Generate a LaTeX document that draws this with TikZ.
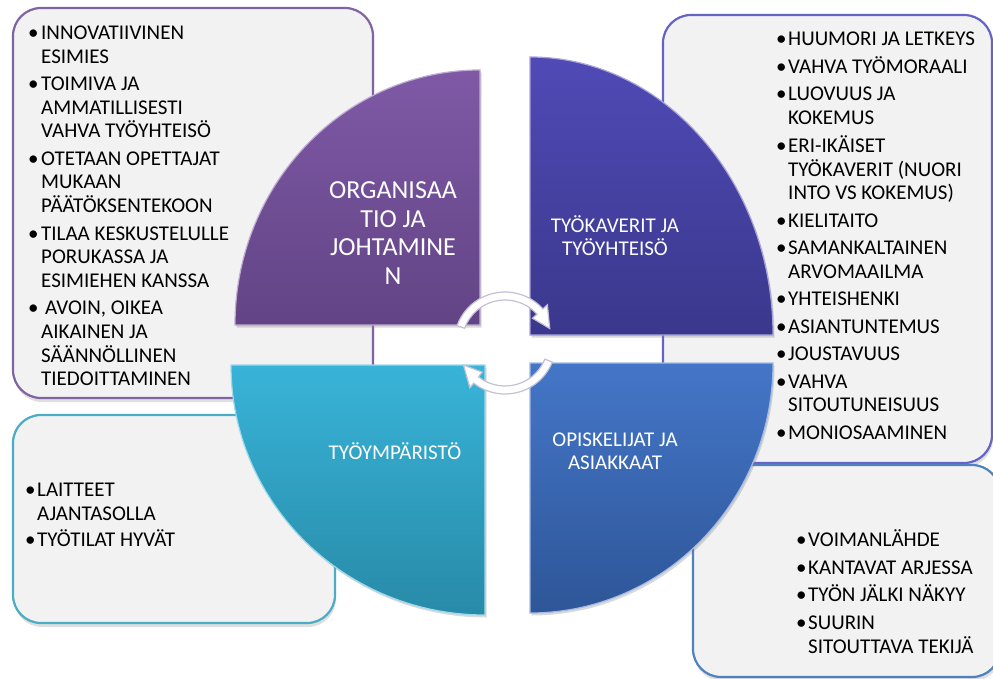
\documentclass[tikz,border=0pt]{standalone}
\usepackage{fontspec}
\setmainfont{Carlito}
\usetikzlibrary{shadows}
\definecolor{orgtop}{RGB}{127,89,166}
\definecolor{orgbot}{RGB}{98,68,133}
\definecolor{mattop}{RGB}{80,74,182}
\definecolor{matbot}{RGB}{58,56,140}
\definecolor{envtop}{RGB}{56,180,216}
\definecolor{envbot}{RGB}{40,138,168}
\definecolor{stutop}{RGB}{68,118,200}
\definecolor{stubot}{RGB}{46,86,152}
\definecolor{orgline}{RGB}{128,100,162}
\definecolor{matline}{RGB}{100,100,196}
\definecolor{envline}{RGB}{75,172,198}
\definecolor{stuline}{RGB}{79,129,189}
\definecolor{arrowline}{RGB}{196,192,214}
\definecolor{boxfill}{RGB}{242,242,242}
\begin{document}
\begin{tikzpicture}[x=1pt, y=-1pt,
	listbox/.style={fill=boxfill, draw=#1, line width=2.2pt, rounded corners=28pt,
		drop shadow={opacity=0.25, shadow xshift=1pt, shadow yshift=-4pt}},
	quarter/.style 2 args={top color=#1, bottom color=#2, draw=#1!50!white, line width=1.2pt,
		drop shadow={opacity=0.3, shadow xshift=1.5pt, shadow yshift=-2.5pt}},
	listtext/.style={anchor=base west, inner sep=0pt, font=\fontsize{21}{23.5}\selectfont},
	qlabel/.style={text=white, align=center, inner sep=0pt, font=\fontsize{21}{23}\selectfont},
	cyclearrow/.style={fill=white, draw=arrowline, line width=1.2pt}]
\useasboundingbox (0,0) rectangle (993,679);
\draw[listbox=orgline] (13,8) rectangle (373,398);
\draw[listbox=matline] (663,15) rectangle (992,463);
\draw[listbox=envline] (13,415) rectangle (335,623);
\draw[listbox=stuline] (693,465) rectangle (1000,677);
\path[quarter={orgtop}{orgbot}] (480,325) -- ++(-245,0) arc[start angle=180, end angle=270, x radius=245, y radius=255] -- cycle;
\path[quarter={mattop}{matbot}] (530,335) -- ++(0,-278) arc[start angle=270, end angle=360, x radius=243, y radius=278] -- cycle;
\path[quarter={stutop}{stubot}] (530,363) -- ++(243,0) arc[start angle=0, end angle=90, x radius=243, y radius=250] -- cycle;
\path[quarter={envtop}{envbot}] (485,365) -- ++(0,250) arc[start angle=90, end angle=180, x radius=254, y radius=250] -- cycle;
\node[qlabel, font=\fontsize{26}{28.8}\selectfont] (orglabel) at (393,233) {ORGANISAA\\TIO JA\\JOHTAMINE\\N};
\node[qlabel] (matlabel) at (615,236) {TYÖKAVERIT JA\\TYÖYHTEISÖ};
\node[qlabel] (envlabel) at (395,451) {TYÖYMPÄRISTÖ};
\node[qlabel] (stulabel) at (615,451) {OPISKELIJAT JA\\ASIAKKAAT};
\node[listtext] (orglist) at (28,39.6) {\begin{tabular}[t]{@{}p{13pt}@{}l@{}}
	\textbullet & INNOVATIIVINEN\\ & ESIMIES\\[4pt]
	\textbullet & TOIMIVA JA\\ & AMMATILLISESTI\\ & VAHVA TYÖYHTEISÖ\\[4pt]
	\textbullet & OTETAAN OPETTAJAT\\ & MUKAAN\\ & PÄÄTÖKSENTEKOON\\[4pt]
	\textbullet & TILAA KESKUSTELULLE\\ & PORUKASSA JA\\ & ESIMIEHEN KANSSA\\[4pt]
	\textbullet & \hspace{4pt}AVOIN, OIKEA\\ & AIKAINEN JA\\ & SÄÄNNÖLLINEN\\ & TIEDOITTAMINEN
	\end{tabular}};
\node[listtext] (matlist) at (776,45.6) {\begin{tabular}[t]{@{}p{12pt}@{}l@{}}
	\textbullet & HUUMORI JA LETKEYS\\[4pt]
	\textbullet & VAHVA TYÖMORAALI\\[4pt]
	\textbullet & LUOVUUS JA\\ & KOKEMUS\\[4pt]
	\textbullet & ERI-IKÄISET\\ & TYÖKAVERIT (NUORI\\ & INTO VS KOKEMUS)\\[4pt]
	\textbullet & KIELITAITO\\[4pt]
	\textbullet & SAMANKALTAINEN\\ & ARVOMAAILMA\\[4pt]
	\textbullet & YHTEISHENKI\\[4pt]
	\textbullet & ASIANTUNTEMUS\\[4pt]
	\textbullet & JOUSTAVUUS\\[4pt]
	\textbullet & VAHVA\\ & SITOUTUNEISUUS\\[4pt]
	\textbullet & MONIOSAAMINEN
	\end{tabular}};
\node[listtext] (envlist) at (25,496.6) {\begin{tabular}[t]{@{}p{12pt}@{}l@{}}
	\textbullet & LAITTEET\\ & AJANTASOLLA\\[3pt]
	\textbullet & TYÖTILAT HYVÄT
	\end{tabular}};
\node[listtext] (stulist) at (796,546.6) {\begin{tabular}[t]{@{}p{12pt}@{}l@{}}
	\textbullet & VOIMANLÄHDE\\[4pt]
	\textbullet & KANTAVAT ARJESSA\\[4pt]
	\textbullet & TYÖN JÄLKI NÄKYY\\[4pt]
	\textbullet & SUURIN\\ & SITOUTTAVA TEKIJÄ
	\end{tabular}};
\coordinate (hub) at (505,343);
\foreach \a/\b/\t in {200/318/342, 22/128/152}
	\path[cyclearrow] ([shift={(\a:51)}]hub) arc[start angle=\a, end angle=\b, radius=51]
	-- ([shift={(\b:57)}]hub) -- ([shift={(\t:47)}]hub) -- ([shift={(\b:37)}]hub)
	-- ([shift={(\b:43)}]hub) arc[start angle=\b, end angle=\a, radius=43] -- cycle;
\end{tikzpicture}
\end{document}
